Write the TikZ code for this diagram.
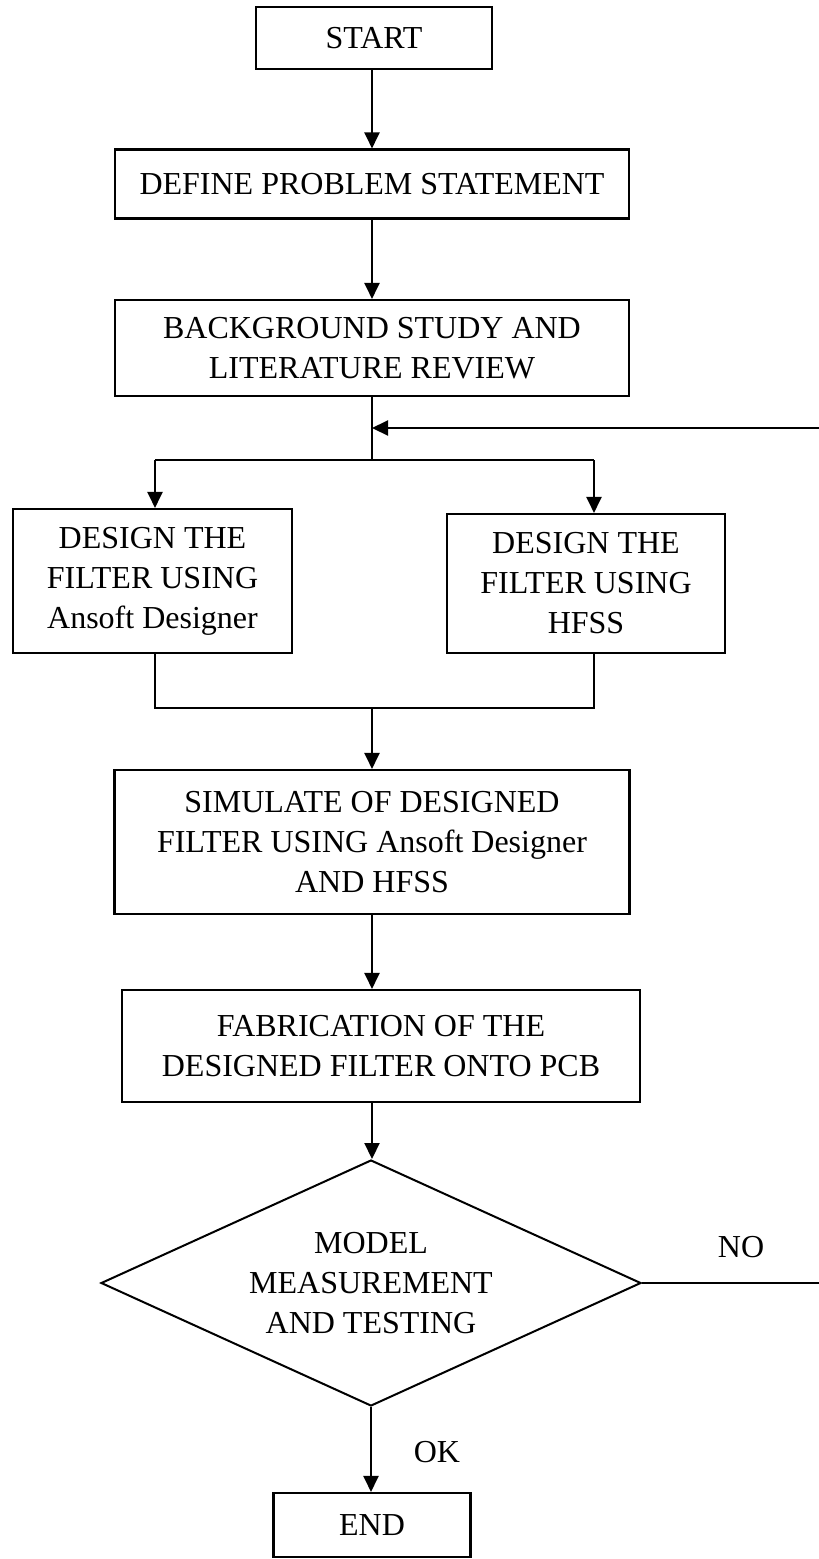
\documentclass[tikz,border=0pt]{standalone}
\usepackage{fontspec}
\setmainfont{Liberation Serif}
\usetikzlibrary{arrows.meta,shapes.geometric}
\begin{document}
\begin{tikzpicture}[x=1pt,y=-1pt,
  txt/.style={font=\fontsize{32}{40}\selectfont},
  box/.style={draw,line width=2.1pt,inner sep=0pt,align=center,txt},
  dec/.style={draw,diamond,aspect=2.2,line width=2pt,inner sep=0pt,align=center,txt,minimum width=540pt,minimum height=246pt},
  arr/.style={line width=2.1pt,-{Triangle[length=16pt,width=15pt]}},
  ln/.style={line width=2.1pt},
  lbl/.style={txt,inner sep=0pt}]
\clip (0,0) rectangle (819,1559);
\fill[white] (0,0) rectangle (819,1559);

\node[box,minimum width=236pt,minimum height=62pt] (start) at (374,38) {START};
\node[box,minimum width=514pt,minimum height=69pt] (define) at (372,184) {DEFINE PROBLEM STATEMENT};
\node[box,minimum width=514pt,minimum height=96pt] (background) at (372,348) {BACKGROUND STUDY AND\\LITERATURE REVIEW};
\node[box,minimum width=279pt,minimum height=144pt] (design1) at (152.5,581) {DESIGN THE\\FILTER USING\\Ansoft Designer};
\node[box,minimum width=278pt,minimum height=139pt] (design2) at (586,583.5) {DESIGN THE\\FILTER USING\\HFSS};
\node[box,minimum width=515pt,minimum height=144pt] (simulate) at (372,842) {SIMULATE OF DESIGNED\\FILTER USING Ansoft Designer\\AND HFSS};
\node[box,minimum width=518pt,minimum height=112pt] (fabrication) at (381,1046) {FABRICATION OF THE\\DESIGNED FILTER ONTO PCB};
\node[dec] (test) at (371,1283) {MODEL\\MEASUREMENT\\AND TESTING};
\node[box,minimum width=197pt,minimum height=64pt] (end) at (372,1525) {END};
\node[lbl] (no) at (741,1247) {NO};
\node[lbl] (ok) at (437,1452) {OK};

\coordinate (fb) at (372,428);
\coordinate (split) at (372,460);
\coordinate (s1) at (155,460);
\coordinate (s2) at (594,460);
\coordinate (m1) at (155,708);
\coordinate (m2) at (594,708);
\coordinate (merge) at (372,708);
\coordinate (outB) at (840,1283);
\coordinate (outT) at (840,428);

\draw[arr] (start.south -| define) -- (define);
\draw[arr] (define) -- (background);
\draw[ln] (background.south) -- (split);
\draw[ln] (s1) -- (s2);
\draw[arr] (s1) -- (s1 |- design1.north);
\draw[arr] (s2) -- (s2 |- design2.north);
\draw[ln] (s1 |- design1.south) -- (m1) -- (m2) -- (s2 |- design2.south);
\draw[arr] (merge) -- (simulate);
\draw[arr] (simulate) -- (simulate.south |- fabrication.north);
\draw[arr] (fabrication.south -| simulate) -- (simulate |- test.north);
\draw[arr] (test.east) -- (outB) -- (outT) -- (fb);
\draw[arr] (test.south) -- (test.south |- end.north);
\end{tikzpicture}
\end{document}
